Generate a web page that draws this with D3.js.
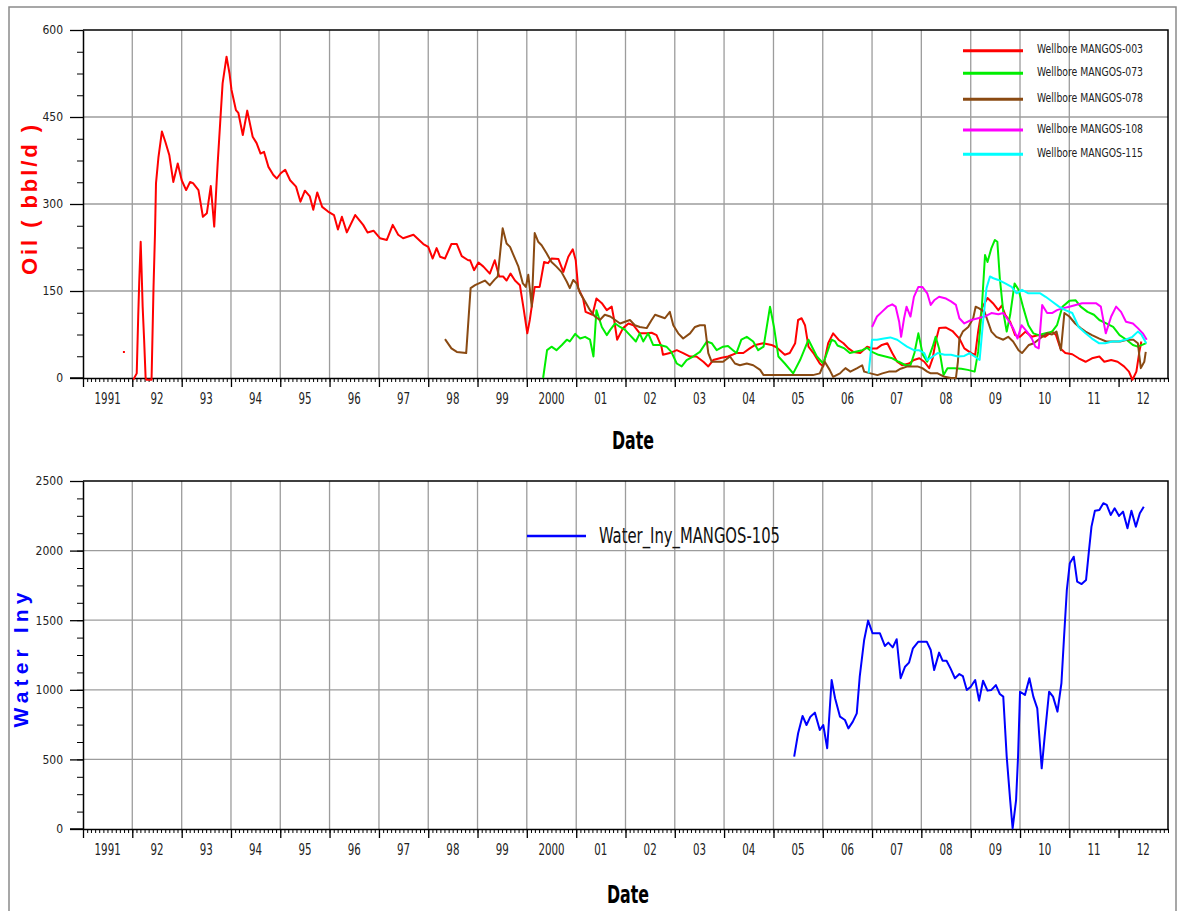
<!DOCTYPE html>
<html>
<head>
<meta charset="utf-8">
<script src="https://cdn.jsdelivr.net/npm/d3@7"></script>
<style>
  body { margin: 0; background: #fff; }
  .narrow { font-family: "Liberation Sans Narrow", "Arial Narrow", "DejaVu Sans Condensed", sans-serif; }
  .axis path, .axis line { stroke: #000; }
  .grid line { stroke: #9c9c9c; stroke-width: 1.3; }
</style>
</head>
<body>
<div class="chart"></div>
<script>
// values: [decimal year, value]
var oil003 = [[1991.81,45],[1991.85,45],[1991.9,null],
  [1992.02,-3],[1992.09,8],[1992.12,106],[1992.14,164],[1992.17,235],[1992.19,181],[1992.21,123],[1992.24,65],[1992.27,0],[1992.29,-3],[1992.39,-3],
  [1992.43,157],[1992.46,250],[1992.48,336],[1992.53,381],[1992.60,425],[1992.67,407],[1992.75,384],[1992.83,338],[1992.92,370],[1993.0,341],
  [1993.09,324],[1993.17,338],[1993.23,336],[1993.34,324],[1993.43,278],[1993.51,284],[1993.59,331],[1993.66,261],[1993.70,324],[1993.73,370],
  [1993.78,439],[1993.83,508],[1993.91,554],[1993.97,525],[1994.01,497],[1994.10,462],[1994.15,457],[1994.24,419],[1994.33,461],[1994.44,416],
  [1994.52,405],[1994.60,387],[1994.67,390],[1994.76,364],[1994.86,350],[1994.93,344],[1995.01,353],[1995.10,359],[1995.20,341],[1995.32,330],
  [1995.41,304],[1995.50,323],[1995.60,313],[1995.67,290],[1995.75,320],[1995.85,295],[1995.97,287],[1996.09,281],[1996.17,256],[1996.25,278],
  [1996.35,251],[1996.52,281],[1996.68,264],[1996.77,251],[1996.89,254],[1997.02,241],[1997.16,238],[1997.28,264],[1997.39,247],[1997.49,241],
  [1997.70,247],[1997.90,231],[1998.0,226],[1998.09,206],[1998.17,224],[1998.24,209],[1998.34,206],[1998.47,231],[1998.58,231],[1998.68,210],
  [1998.81,203],[1998.85,203],[1998.93,186],[1999.02,199],[1999.12,192],[1999.25,180],[1999.35,203],[1999.44,175],[1999.52,175],[1999.59,168],
  [1999.67,180],[1999.76,168],[1999.86,160],[1999.94,117],[2000.01,77],[2000.06,100],[2000.11,129],[2000.16,157],[2000.26,157],[2000.35,200],
  [2000.43,198],[2000.50,206],[2000.64,205],[2000.74,183],[2000.84,209],[2000.93,222],[2000.99,203],[2001.04,155],[2001.14,137],[2001.19,114],
  [2001.33,109],[2001.41,137],[2001.52,129],[2001.62,117],[2001.72,123],[2001.77,100],[2001.83,66],[2001.95,86],[2002.06,94],[2002.16,91],
  [2002.29,77],[2002.43,77],[2002.53,78],[2002.63,74],[2002.73,54],[2002.76,40],[2002.90,43],[2003.04,48],[2003.17,43],[2003.31,37],
  [2003.44,37],[2003.58,28],[2003.68,20],[2003.78,31],[2003.95,35],[2004.08,37],[2004.25,43],[2004.39,43],[2004.52,51],[2004.63,57],
  [2004.79,60],[2004.96,57],[2005.06,53],[2005.23,40],[2005.33,43],[2005.44,60],[2005.50,100],[2005.57,103],[2005.64,91],[2005.71,54],
  [2005.81,43],[2005.94,25],[2006.01,20],[2006.11,60],[2006.21,77],[2006.32,66],[2006.42,60],[2006.52,51],[2006.62,45],[2006.76,43],
  [2006.90,54],[2007.0,51],[2007.10,51],[2007.20,57],[2007.31,60],[2007.41,43],[2007.51,28],[2007.61,22],[2007.75,25],[2007.85,31],
  [2007.96,34],[2008.06,28],[2008.16,17],[2008.23,34],[2008.29,63],[2008.36,86],[2008.50,87],[2008.63,81],[2008.77,68],[2008.87,51],
  [2009.01,43],[2009.09,40],[2009.15,80],[2009.23,121],[2009.34,138],[2009.45,129],[2009.56,117],[2009.63,125],[2009.70,109],[2009.80,97],
  [2009.90,74],[2010.0,71],[2010.11,80],[2010.24,71],[2010.38,74],[2010.51,71],[2010.65,80],[2010.73,74],[2010.82,51],[2010.92,43],
  [2011.06,41],[2011.19,34],[2011.33,28],[2011.46,34],[2011.61,37],[2011.71,28],[2011.85,31],[2011.98,28],[2012.11,20],[2012.21,11],
  [2012.28,-3],[2012.36,11],[2012.42,45],[2012.46,63]];

var oil073 = [[2000.33,0],[2000.41,48],[2000.50,54],[2000.60,48],[2000.71,57],[2000.81,66],[2000.87,63],[2000.98,76],[2001.08,68],[2001.18,71],
  [2001.28,66],[2001.35,37],[2001.41,117],[2001.52,88],[2001.62,74],[2001.69,83],[2001.79,94],[2001.89,88],[2001.99,83],[2002.09,74],
  [2002.21,63],[2002.29,77],[2002.36,63],[2002.46,77],[2002.56,57],[2002.70,57],[2002.83,54],[2002.93,45],[2003.04,25],[2003.14,20],
  [2003.24,31],[2003.37,37],[2003.51,45],[2003.65,63],[2003.75,60],[2003.85,48],[2003.98,54],[2004.08,55],[2004.18,48],[2004.25,43],
  [2004.35,66],[2004.46,71],[2004.59,63],[2004.69,48],[2004.80,54],[2004.93,123],[2005.01,88],[2005.10,37],[2005.23,25],[2005.40,8],
  [2005.54,31],[2005.71,66],[2005.88,37],[2006.01,25],[2006.18,66],[2006.25,63],[2006.30,56],[2006.44,51],[2006.55,43],[2006.80,48],
  [2006.90,52],[2007.0,45],[2007.13,40],[2007.27,37],[2007.41,34],[2007.54,28],[2007.68,22],[2007.78,22],[2007.86,43],[2007.94,77],
  [2008.03,40],[2008.12,28],[2008.23,54],[2008.29,71],[2008.36,51],[2008.45,5],[2008.53,17],[2008.67,17],[2008.81,16],[2008.94,14],
  [2009.08,11],[2009.15,45],[2009.22,114],[2009.29,212],[2009.34,200],[2009.42,224],[2009.49,238],[2009.54,235],[2009.59,172],[2009.66,114],
  [2009.73,80],[2009.80,109],[2009.89,163],[2009.97,152],[2010.07,120],[2010.17,91],[2010.27,77],[2010.38,74],[2010.52,77],[2010.65,80],
  [2010.75,91],[2010.86,123],[2011.0,133],[2011.13,134],[2011.23,123],[2011.37,114],[2011.50,109],[2011.61,100],[2011.75,94],[2011.89,88],
  [2012.02,74],[2012.16,66],[2012.29,57],[2012.39,54],[2012.56,60]];

var oil078 = [[1998.34,67],[1998.47,51],[1998.58,45],[1998.77,43],[1998.86,155],[1998.95,160],[1999.05,164],[1999.15,168],[1999.25,160],
  [1999.35,170],[1999.41,175],[1999.51,258],[1999.59,232],[1999.66,226],[1999.73,212],[1999.83,192],[1999.92,163],[1999.98,157],[2000.03,178],
  [2000.10,123],[2000.16,250],[2000.23,235],[2000.30,229],[2000.40,215],[2000.50,200],[2000.60,192],[2000.70,183],[2000.81,166],[2000.87,155],
  [2000.94,169],[2001.01,163],[2001.08,146],[2001.18,132],[2001.28,117],[2001.38,106],[2001.48,100],[2001.58,109],[2001.69,106],[2001.79,100],
  [2001.89,94],[2001.99,97],[2002.09,100],[2002.19,91],[2002.29,88],[2002.43,86],[2002.53,100],[2002.60,109],[2002.70,106],[2002.80,103],
  [2002.90,114],[2002.97,91],[2003.07,77],[2003.17,68],[2003.31,77],[2003.41,88],[2003.51,91],[2003.61,91],[2003.68,43],[2003.75,28],
  [2003.85,28],[2003.98,28],[2004.12,37],[2004.22,25],[2004.32,22],[2004.46,25],[2004.59,22],[2004.73,14],[2004.80,5],[2005.80,5],
  [2005.94,8],[2006.04,28],[2006.14,14],[2006.21,2],[2006.35,8],[2006.42,14],[2006.46,17],[2006.56,11],[2006.70,17],[2006.80,22],
  [2006.84,11],[2006.97,8],[2007.11,5],[2007.21,8],[2007.34,11],[2007.48,11],[2007.58,16],[2007.72,20],[2007.92,20],[2008.02,17],
  [2008.12,11],[2008.19,8],[2008.33,8],[2008.47,2],[2008.60,0],[2008.70,0],[2008.74,28],[2008.77,68],[2008.84,80],[2008.95,88],
  [2009.05,103],[2009.10,123],[2009.17,120],[2009.28,114],[2009.35,97],[2009.42,80],[2009.52,71],[2009.66,66],[2009.76,71],[2009.86,63],
  [2009.97,48],[2010.04,43],[2010.18,57],[2010.28,60],[2010.45,71],[2010.55,77],[2010.65,75],[2010.74,80],[2010.83,48],[2010.90,112],
  [2011.0,106],[2011.12,94],[2011.23,86],[2011.33,80],[2011.46,74],[2011.61,68],[2011.75,63],[2011.89,63],[2012.03,63],[2012.17,66],
  [2012.30,66],[2012.39,60],[2012.45,17],[2012.52,28],[2012.55,45]];

var oil108 = [[2007.0,88],[2007.10,106],[2007.20,114],[2007.31,123],[2007.41,127],[2007.48,123],[2007.55,97],[2007.59,71],[2007.65,103],
  [2007.70,123],[2007.78,106],[2007.85,140],[2007.94,157],[2008.02,157],[2008.12,146],[2008.19,126],[2008.26,134],[2008.36,140],[2008.50,137],
  [2008.60,132],[2008.70,126],[2008.77,103],[2008.87,94],[2009.01,100],[2009.15,103],[2009.28,106],[2009.42,112],[2009.56,110],[2009.66,112],
  [2009.76,100],[2009.86,86],[2009.95,68],[2010.03,91],[2010.14,80],[2010.24,68],[2010.31,54],[2010.38,51],[2010.45,126],[2010.55,112],
  [2010.65,112],[2010.75,117],[2010.86,120],[2011.0,123],[2011.13,126],[2011.26,129],[2011.40,129],[2011.54,129],[2011.64,123],[2011.74,77],
  [2011.85,106],[2011.95,123],[2012.05,114],[2012.15,97],[2012.29,94],[2012.39,86],[2012.49,77],[2012.57,66]];

var oil115 = [[2006.93,8],[2007.0,66],[2007.10,66],[2007.24,68],[2007.37,70],[2007.51,66],[2007.61,60],[2007.71,54],[2007.85,48],[2007.95,48],
  [2008.06,43],[2008.12,31],[2008.23,37],[2008.33,43],[2008.47,40],[2008.60,40],[2008.74,37],[2008.87,38],[2008.98,43],[2009.08,37],
  [2009.18,31],[2009.25,97],[2009.32,155],[2009.39,175],[2009.46,172],[2009.56,169],[2009.70,163],[2009.83,157],[2009.93,146],[2010.04,152],
  [2010.17,146],[2010.31,146],[2010.41,146],[2010.52,140],[2010.65,132],[2010.79,123],[2010.92,117],[2011.06,112],[2011.19,88],[2011.33,77],
  [2011.46,68],[2011.60,60],[2011.73,60],[2011.87,63],[2012.0,63],[2012.14,66],[2012.28,71],[2012.39,80],[2012.46,75],[2012.56,60]];

var water105 = [[2005.42,520],[2005.50,688],[2005.59,812],[2005.67,747],[2005.75,807],[2005.84,836],[2005.94,711],[2006.01,747],[2006.09,580],
  [2006.18,1070],[2006.25,939],[2006.35,807],[2006.45,783],[2006.52,723],[2006.61,771],[2006.69,831],[2006.75,1094],[2006.84,1358],[2006.92,1497],
  [2007.01,1406],[2007.16,1406],[2007.26,1315],[2007.33,1339],[2007.42,1305],[2007.50,1363],[2007.58,1083],[2007.67,1166],[2007.75,1195],
  [2007.83,1298],[2007.94,1346],[2008.11,1346],[2008.19,1286],[2008.26,1142],[2008.36,1267],[2008.43,1209],[2008.51,1209],[2008.59,1154],
  [2008.68,1083],[2008.77,1113],[2008.84,1099],[2008.92,999],[2009.0,1022],[2009.09,1070],[2009.17,922],[2009.25,1065],[2009.34,994],
  [2009.42,999],[2009.51,1034],[2009.59,970],[2009.66,951],[2009.73,519],[2009.80,208],[2009.85,5],[2009.92,208],[2009.96,519],[2010.0,986],
  [2010.10,963],[2010.19,1083],[2010.27,951],[2010.35,867],[2010.44,436],[2010.50,663],[2010.59,986],[2010.67,951],[2010.76,843],[2010.84,1047],
  [2010.89,1358],[2010.95,1717],[2011.01,1909],[2011.09,1956],[2011.16,1777],[2011.25,1760],[2011.34,1789],[2011.40,2004],[2011.45,2172],
  [2011.52,2287],[2011.61,2292],[2011.69,2340],[2011.76,2328],[2011.84,2256],[2011.92,2304],[2012.01,2249],[2012.09,2280],[2012.18,2160],
  [2012.26,2287],[2012.35,2172],[2012.43,2268],[2012.51,2315]];

var yearLabels = ["1991","92","93","94","95","96","97","98","99","2000","01","02","03","04","05","06","07","08","09","10","11","12"];
var oilNames = ["Wellbore MANGOS-003","Wellbore MANGOS-073","Wellbore MANGOS-078","Wellbore MANGOS-108","Wellbore MANGOS-115"];
var waterName = "Water_Iny_MANGOS-105";

var oilColors = ["#ff0000","#00ee00","#8a4a12","#ff00ff","#00ffff"];
var waterColor = "#0000ff";

function yearToDate(y) {
    var yr = Math.floor(y);
    var a = new Date(yr, 0, 1), b = new Date(yr + 1, 0, 1);
    return new Date(+a + (y - yr) * (b - a));
}

var svgWidth = 1180, svgHeight = 911;
var left = 83, right = 1168;

var svg = d3.select(".chart").append("svg")
    .attr("width", svgWidth)
    .attr("height", svgHeight);

svg.append("rect")
    .attr("x", 9).attr("y", 7)
    .attr("width", 1167).attr("height", 930)
    .attr("fill", "none")
    .attr("stroke", "#8a8a8a")
    .attr("stroke-width", 1.5);

var xScale = d3.scaleTime()
    .domain([new Date(1991, 0, 1), new Date(2013, 0, 1)])
    .range([left, right]);

var yearStarts = d3.timeYear.range(new Date(1991, 0, 1), new Date(2014, 0, 1));
var months = d3.timeMonth.range(new Date(1991, 0, 1), new Date(2013, 0, 2));

function drawPanel(top, bottom, yMax, yStep, yMinor) {
    var yScale = d3.scaleLinear().domain([0, yMax]).range([bottom, top]);
    var g = svg.append("g");

    var majors = d3.range(0, yMax + 1, yStep);

    // grid
    var grid = g.append("g").attr("class", "grid");
    grid.selectAll(".h").data(majors.slice(1, -1)).enter().append("line")
        .attr("x1", left).attr("x2", right)
        .attr("y1", function(d) { return yScale(d); })
        .attr("y2", function(d) { return yScale(d); });
    grid.selectAll(".v").data(yearStarts.slice(1, -2)).enter().append("line")
        .attr("y1", top).attr("y2", bottom)
        .attr("x1", function(d) { return xScale(d); })
        .attr("x2", function(d) { return xScale(d); });

    // frame top/right
    g.append("path")
        .attr("d", "M" + left + "," + top + "H" + right + "V" + bottom)
        .attr("fill", "none").attr("stroke", "#000").attr("stroke-width", 1.5);

    // y axis
    g.append("g").attr("class", "axis narrow")
        .attr("transform", "translate(" + left + ",0)")
        .call(d3.axisLeft(yScale).tickValues(d3.range(0, yMax + 1, yMinor)).tickSize(6).tickSizeOuter(0).tickFormat(""))
        .call(function(a) { a.select(".domain").remove(); });
    g.append("g").attr("class", "axis narrow")
        .attr("transform", "translate(" + left + ",0)")
        .call(d3.axisLeft(yScale).tickValues(majors).tickSize(13).tickSizeOuter(0).tickPadding(7).tickFormat(d3.format("d")))
        .call(function(a) {
            a.select(".domain").attr("stroke-width", 1.5);
            a.selectAll("text").style("font-size", "12px").attr("fill", "#222");
            a.selectAll("line").attr("stroke-width", 1.3);
        });

    // x axis
    g.append("g").attr("class", "axis")
        .attr("transform", "translate(0," + bottom + ")")
        .call(d3.axisBottom(xScale).tickValues(months).tickSize(4).tickSizeOuter(0).tickFormat(""))
        .call(function(a) { a.select(".domain").remove(); });
    g.append("g").attr("class", "axis")
        .attr("transform", "translate(0," + bottom + ")")
        .call(d3.axisBottom(xScale).tickValues(yearStarts.slice(0, -1)).tickSize(9).tickSizeOuter(0).tickFormat(""))
        .call(function(a) {
            a.select(".domain").attr("stroke-width", 1.5);
            a.selectAll("line").attr("stroke-width", 1.3);
        });
    g.append("line")
        .attr("x1", left - 13).attr("x2", left)
        .attr("y1", bottom).attr("y2", bottom)
        .attr("stroke", "#000").attr("stroke-width", 1.5);

    g.append("g").attr("class", "narrow")
        .selectAll("text").data(yearLabels).enter().append("text")
        .attr("transform", function(d, i) {
            var cx = (xScale(yearStarts[i]) + xScale(yearStarts[i + 1])) / 2;
            return "translate(" + cx + "," + (bottom + 26) + ") scale(0.95,1.3)";
        })
        .attr("text-anchor", "middle")
        .style("font-size", "12px")
        .attr("fill", "#222")
        .text(function(d) { return d; });

    return yScale;
}

var yOil = drawPanel(30, 378, 600, 150, 37.5);
var yWater = drawPanel(481, 829, 2500, 500, 125);

function lineFor(yScale) {
    return d3.line()
        .defined(function(d) { return d[1] !== null; })
        .x(function(d) { return xScale(yearToDate(d[0])); })
        .y(function(d) { return yScale(d[1]); });
}

var oilSeries = [oil003, oil073, oil078, oil108, oil115];
svg.append("g").selectAll("path").data(oilSeries).enter().append("path")
    .attr("d", lineFor(yOil))
    .attr("fill", "none")
    .attr("stroke", function(d, i) { return oilColors[i]; })
    .attr("stroke-width", 2)
    .attr("stroke-linejoin", "round");

svg.append("path").datum(water105)
    .attr("d", lineFor(yWater))
    .attr("fill", "none")
    .attr("stroke", waterColor)
    .attr("stroke-width", 2)
    .attr("stroke-linejoin", "round");

// legends
var legendY = [50.7, 73.3, 99.3, 130, 154.3];
var leg = svg.append("g").attr("class", "narrow");
leg.selectAll("line").data(oilNames).enter().append("line")
    .attr("x1", 963).attr("x2", 1023)
    .attr("y1", function(d, i) { return legendY[i]; })
    .attr("y2", function(d, i) { return legendY[i]; })
    .attr("stroke", function(d, i) { return oilColors[i]; })
    .attr("stroke-width", 3);
leg.selectAll("text").data(oilNames).enter().append("text")
    .attr("x", 1037)
    .attr("y", function(d, i) { return legendY[i] - 1; })
    .attr("dominant-baseline", "middle")
    .attr("textLength", 106).attr("lengthAdjust", "spacingAndGlyphs")
    .style("font-size", "13px")
    .attr("fill", "#222")
    .text(function(d) { return d; });

svg.append("line")
    .attr("x1", 527).attr("x2", 586).attr("y1", 536).attr("y2", 536)
    .attr("stroke", waterColor).attr("stroke-width", 2.5);
svg.append("text").attr("class", "narrow")
    .attr("x", 599).attr("y", 537)
    .attr("dominant-baseline", "middle")
    .attr("textLength", 181).attr("lengthAdjust", "spacingAndGlyphs")
    .style("font-size", "21px")
    .attr("fill", "#111")
    .text(waterName);

// axis titles
svg.append("text")
    .attr("transform", "translate(37,200) rotate(-90)")
    .attr("text-anchor", "middle")
    .attr("textLength", 150).attr("lengthAdjust", "spacing")
    .style("font-family", "'Liberation Sans', Arial, sans-serif")
    .style("font-weight", "bold").style("font-size", "22px")
    .attr("fill", "#ff0000")
    .text("Oil ( bbl/d )");

svg.append("text")
    .attr("transform", "translate(28,660) rotate(-90)")
    .attr("text-anchor", "middle")
    .attr("textLength", 135).attr("lengthAdjust", "spacing")
    .style("font-family", "'Liberation Sans', Arial, sans-serif")
    .style("font-weight", "bold").style("font-size", "21px")
    .attr("fill", "#0000ff")
    .text("Water  Iny");

svg.selectAll(".date").data([[633, 449], [628, 903]]).enter().append("text")
    .attr("class", "narrow")
    .attr("transform", function(d) { return "translate(" + d[0] + "," + d[1] + ") scale(1,1.1)"; })
    .attr("text-anchor", "middle")
    .attr("textLength", 42).attr("lengthAdjust", "spacingAndGlyphs")
    .style("font-weight", "bold").style("font-size", "23px")
    .attr("fill", "#000")
    .text("Date");
</script>
</body>
</html>
